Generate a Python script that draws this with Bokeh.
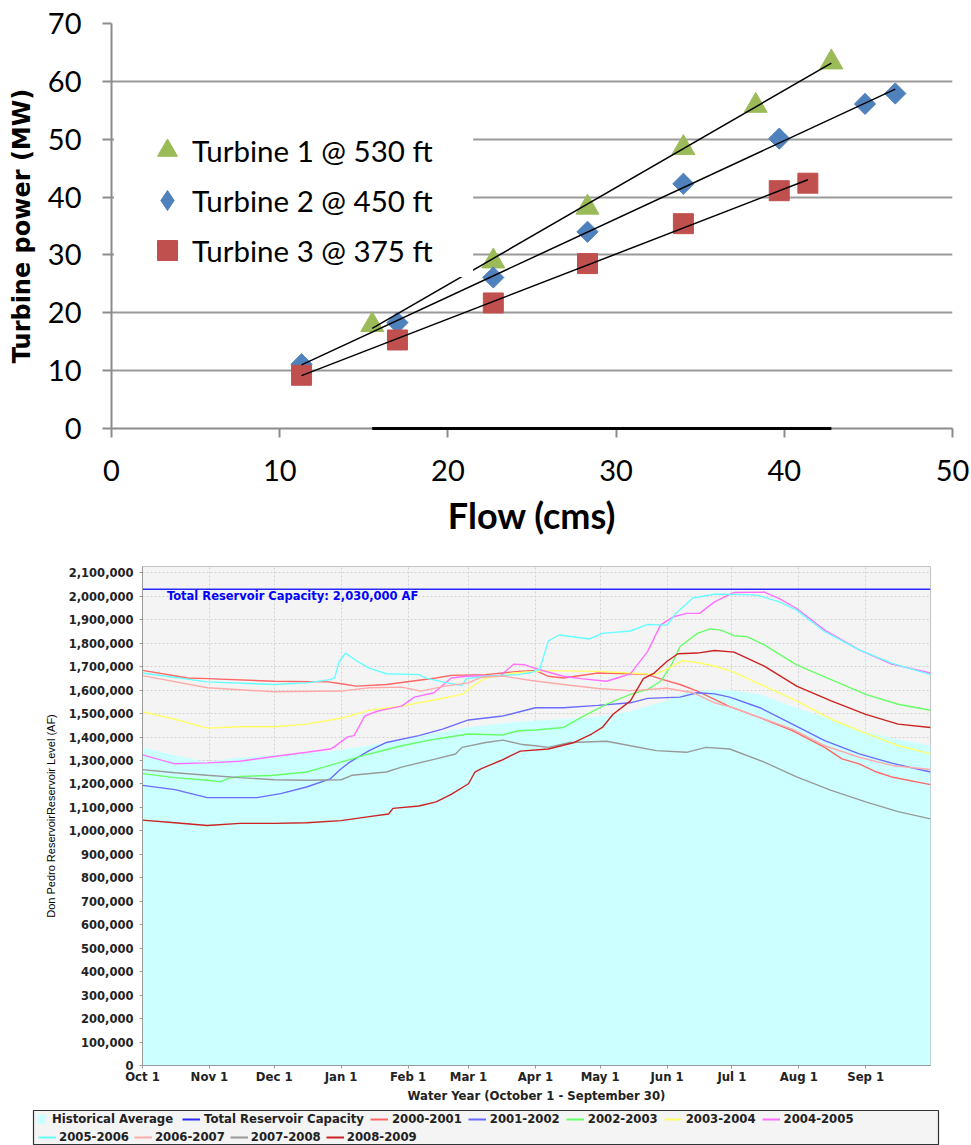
import numpy as np
from bokeh.plotting import figure
from bokeh.models import (Range1d, FixedTicker, NumeralTickFormatter, Legend, LegendItem,
                          BoxAnnotation, Label)
from bokeh.embed import file_html
from bokeh.resources import INLINE

# ---------------- top chart data ----------------
flow_ticks = [0, 10, 20, 30, 40, 50]
power_ticks = [0, 10, 20, 30, 40, 50, 60, 70]

t1_flow = [15.5, 22.7, 28.3, 34.0, 38.3, 42.8]
t1_power = [17.9, 28.9, 38.2, 48.5, 55.8, 63.3]
t2_flow = [11.3, 17.0, 22.7, 28.3, 34.0, 39.7, 44.8, 46.6]
t2_power = [11.1, 18.3, 26.1, 34.0, 42.3, 50.1, 56.1, 57.9]
t3_flow = [11.3, 17.0, 22.7, 28.3, 34.0, 39.7, 41.4]
t3_power = [9.2, 15.3, 21.7, 28.5, 35.4, 41.1, 42.4]
zero_power = [0, 0, 0, 0, 0, 0]

# ---------------- bottom chart data ----------------
month_days = [0, 31, 61, 92, 123, 151, 182, 212, 243, 273, 304, 335]
month_labels = ["Oct 1", "Nov 1", "Dec 1", "Jan 1", "Feb 1", "Mar 1", "Apr 1",
                "May 1", "Jun 1", "Jul 1", "Aug 1", "Sep 1"]
level_ticks = list(range(0, 2100001, 100000))

capacity_day = [0, 365]
capacity_af = [2030000, 2030000]

hist_day = [0, 15, 30, 42, 58, 73, 89, 104, 120, 135, 150, 166, 180, 203, 215, 226, 235,
            243, 250, 257, 265, 272, 286, 301, 316, 333, 350, 365]
hist_af = [1356000, 1322000, 1293000, 1311000, 1321000, 1331000, 1342000, 1363000, 1385000,
           1416000, 1441000, 1458000, 1470000, 1480000, 1492000, 1510000, 1535000, 1556000,
           1585000, 1597000, 1601000, 1599000, 1582000, 1530000, 1485000, 1427000, 1390000,
           1363000]

y0001_day = [0, 21, 30, 61, 86, 92, 99, 113, 136, 143, 159, 174, 182, 188, 195, 211, 226, 234,
             241, 249, 257, 265, 272, 286, 301, 316, 324, 332, 340, 347, 365]
y0001_af = [1684000, 1652000, 1649000, 1638000, 1635000, 1627000, 1617000, 1624000, 1652000,
            1663000, 1666000, 1680000, 1684000, 1659000, 1652000, 1673000, 1670000, 1666000,
            1645000, 1624000, 1596000, 1561000, 1530000, 1483000, 1427000, 1356000, 1307000,
            1286000, 1251000, 1230000, 1197000]

y0102_day = [0, 15, 30, 53, 64, 76, 87, 92, 96, 105, 113, 128, 139, 151, 167, 182, 195, 211,
             226, 234, 249, 257, 265, 272, 286, 301, 316, 332, 347, 365]
y0102_af = [1194000, 1176000, 1142000, 1142000, 1159000, 1187000, 1222000, 1265000, 1293000,
            1342000, 1377000, 1406000, 1434000, 1473000, 1490000, 1525000, 1525000, 1535000,
            1546000, 1565000, 1570000, 1589000, 1584000, 1570000, 1525000, 1455000, 1385000,
            1328000, 1289000, 1251000]

y0203_day = [0, 15, 30, 36, 40, 45, 61, 76, 84, 92, 105, 120, 136, 151, 167, 174, 182, 195,
             203, 215, 226, 234, 240, 245, 249, 257, 263, 268, 274, 280, 288, 303, 319, 335,
             350, 365]
y0203_af = [1244000, 1227000, 1216000, 1209000, 1225000, 1232000, 1237000, 1251000, 1272000,
            1293000, 1328000, 1363000, 1392000, 1413000, 1409000, 1427000, 1430000, 1441000,
            1483000, 1540000, 1582000, 1603000, 1638000, 1708000, 1786000, 1842000, 1861000,
            1856000, 1832000, 1828000, 1793000, 1708000, 1645000, 1582000, 1540000, 1514000]

y0304_day = [0, 15, 30, 45, 61, 76, 92, 105, 120, 136, 148, 154, 159, 172, 187, 211, 226, 237,
             244, 250, 257, 265, 273, 288, 303, 319, 334, 350, 365]
y0304_af = [1508000, 1476000, 1438000, 1444000, 1444000, 1455000, 1480000, 1514000, 1532000,
            1560000, 1582000, 1624000, 1652000, 1673000, 1683000, 1680000, 1673000, 1666000,
            1694000, 1725000, 1718000, 1702000, 1680000, 1617000, 1554000, 1476000, 1420000,
            1364000, 1328000]

y0405_day = [0, 15, 30, 45, 61, 76, 87, 89, 95, 98, 103, 109, 115, 120, 126, 135, 143, 150,
             166, 172, 177, 184, 195, 203, 215, 221, 226, 234, 240, 246, 252, 258, 265, 271,
             274, 288, 295, 303, 316, 332, 347, 365]
y0405_af = [1324000, 1286000, 1290000, 1297000, 1317000, 1335000, 1349000, 1359000, 1401000,
            1406000, 1490000, 1511000, 1522000, 1532000, 1570000, 1589000, 1652000, 1659000,
            1663000, 1711000, 1708000, 1687000, 1659000, 1649000, 1638000, 1655000, 1669000,
            1765000, 1878000, 1913000, 1927000, 1927000, 1976000, 2004000, 2016000, 2018000,
            1990000, 1948000, 1856000, 1772000, 1711000, 1673000]

y0506_day = [0, 30, 61, 76, 87, 89, 91, 94, 100, 105, 113, 128, 131, 139, 148, 150, 159, 174,
             180, 184, 188, 193, 207, 213, 226, 234, 243, 247, 255, 265, 280, 285, 295, 303,
             316, 332, 347, 365]
y0506_af = [1673000, 1635000, 1624000, 1631000, 1645000, 1652000, 1720000, 1758000, 1720000,
            1694000, 1670000, 1666000, 1652000, 1635000, 1620000, 1649000, 1659000, 1666000,
            1675000, 1690000, 1810000, 1835000, 1818000, 1842000, 1852000, 1880000, 1877000,
            1927000, 1993000, 2009000, 2007000, 2004000, 1976000, 1941000, 1849000, 1772000,
            1715000, 1666000]

y0607_day = [0, 30, 61, 92, 105, 120, 129, 140, 151, 157, 167, 180, 195, 211, 226, 243, 255,
             265, 273, 286, 301, 316, 332, 347, 365]
y0607_af = [1662000, 1610000, 1593000, 1596000, 1610000, 1613000, 1596000, 1617000, 1631000,
            1655000, 1660000, 1641000, 1624000, 1607000, 1598000, 1608000, 1589000, 1546000,
            1527000, 1483000, 1434000, 1363000, 1314000, 1279000, 1262000]

y0708_day = [0, 15, 30, 45, 61, 76, 92, 97, 113, 120, 136, 145, 148, 159, 167, 176, 182, 188,
             198, 215, 226, 238, 252, 261, 272, 288, 303, 319, 335, 350, 365]
y0708_af = [1261000, 1248000, 1237000, 1227000, 1218000, 1216000, 1218000, 1237000, 1251000,
            1272000, 1307000, 1328000, 1356000, 1377000, 1387000, 1368000, 1363000, 1356000,
            1377000, 1382000, 1363000, 1342000, 1335000, 1356000, 1349000, 1293000, 1230000,
            1173000, 1124000, 1082000, 1051000]

y0809_day = [0, 15, 30, 45, 61, 76, 92, 105, 114, 116, 128, 136, 143, 151, 154, 157, 166, 175,
             188, 200, 208, 213, 218, 226, 232, 237, 243, 248, 257, 265, 274, 288, 303, 319,
             335, 350, 365]
y0809_af = [1046000, 1035000, 1023000, 1032000, 1032000, 1035000, 1044000, 1061000, 1072000,
            1096000, 1106000, 1124000, 1156000, 1201000, 1251000, 1265000, 1300000, 1340000,
            1349000, 1377000, 1413000, 1441000, 1497000, 1554000, 1649000, 1673000, 1723000,
            1755000, 1758000, 1769000, 1762000, 1702000, 1617000, 1554000, 1497000, 1455000,
            1441000]

series_names = ["2000-2001", "2001-2002", "2002-2003", "2003-2004", "2004-2005",
                "2005-2006", "2006-2007", "2007-2008", "2008-2009"]
series_days = [y0001_day, y0102_day, y0203_day, y0304_day, y0405_day,
               y0506_day, y0607_day, y0708_day, y0809_day]
series_af = [y0001_af, y0102_af, y0203_af, y0304_af, y0405_af,
             y0506_af, y0607_af, y0708_af, y0809_af]
series_colors = ["#ff6666", "#6b6bff", "#66ff66", "#ffff66", "#ff70ff",
                 "#66ffff", "#ffaaaa", "#999999", "#cc2222"]
hist_color = "#ccffff"
capacity_color = "#2a2aff"
NO_POINT = [np.nan]   # legend-swatch renderers draw nothing in the plot area

# =============== TOP CHART ===============
p1 = figure(width=971, height=545, x_range=Range1d(0, 50), y_range=Range1d(0, 70),
            output_backend="svg", toolbar_location=None,
            min_border_left=111, min_border_right=19, min_border_top=23, min_border_bottom=117)
p1.outline_line_color = None
p1.xgrid.visible = False
p1.ygrid.grid_line_color = "#9a9a9a"
p1.ygrid.grid_line_width = 2
p1.xaxis.ticker = FixedTicker(ticks=flow_ticks)
p1.yaxis.ticker = FixedTicker(ticks=power_ticks)
for ax in p1.axis:
    ax.axis_line_color = "#8c8c8c"
    ax.axis_line_width = 2
    ax.major_tick_line_color = "#8c8c8c"
    ax.major_tick_line_width = 2
    ax.major_tick_in = 0
    ax.major_tick_out = 9
    ax.minor_tick_line_color = None
    ax.major_label_text_font = "Lato"
    ax.major_label_text_font_size = "29px"
    ax.major_label_text_color = "black"
p1.xaxis.major_label_standoff = 22
p1.yaxis.major_label_standoff = 21
p1.xaxis.axis_label = "Flow (cms)"
p1.xaxis.axis_label_text_font = "Lato"
p1.xaxis.axis_label_text_font_style = "bold"
p1.xaxis.axis_label_text_font_size = "36px"
p1.xaxis.axis_label_text_color = "black"
p1.xaxis.axis_label_standoff = 9
p1.yaxis.axis_label = "Turbine power (MW)"
p1.yaxis.axis_label_text_font = "DejaVu Sans"
p1.yaxis.axis_label_text_font_style = "bold"
p1.yaxis.axis_label_text_font_size = "24px"
p1.yaxis.axis_label_text_color = "black"
p1.yaxis.axis_label_standoff = 9

c1, c2, c3 = "#9bbb59", "#4f81bd", "#c0504d"
r1 = p1.scatter(t1_flow, t1_power, marker="triangle", size=23, fill_color=c1, line_color=c1)
p1.scatter(t2_flow, t2_power, marker="square", size=15, angle=np.pi / 4,
           fill_color=c2, line_color=c2)
r3 = p1.scatter(t3_flow, t3_power, marker="square", size=20, fill_color=c3, line_color=c3)
r2_key = p1.scatter(NO_POINT, NO_POINT, marker="diamond", fill_color=c2, line_color=c2)

for fx, fy in [(t1_flow, t1_power), (t2_flow, t2_power), (t3_flow, t3_power)]:
    m, b = np.polyfit(fx, fy, 1)
    xs = [min(fx), max(fx)]
    p1.line(xs, [m * x + b for x in xs], line_color="black", line_width=1.5)
m0, b0 = np.polyfit(t1_flow, zero_power, 1)
xs0 = [min(t1_flow), max(t1_flow)]
p1.line(xs0, [m0 * x + b0 for x in xs0], line_color="black", line_width=3, level="overlay")

# white legend background (hides gridlines and part of a trend line, as in the original)
p1.add_layout(BoxAnnotation(left=0.15, right=21.5, bottom=26.2, top=54.5,
                            fill_color="white", fill_alpha=1.0, line_color=None))

leg1 = Legend(items=[LegendItem(label="Turbine 1 @ 530 ft", renderers=[r1]),
                     LegendItem(label="Turbine 2 @ 450 ft", renderers=[r2_key]),
                     LegendItem(label="Turbine 3 @ 375 ft", renderers=[r3])],
              location=(31, 153), orientation="vertical", glyph_width=50, glyph_height=50,
              label_standoff=0, spacing=0, padding=0, margin=0,
              background_fill_alpha=0, border_line_color=None,
              label_text_font="Lato", label_text_font_size="29.5px", label_text_color="black")
p1.add_layout(leg1)

# =============== BOTTOM CHART ===============
p2 = figure(width=971, height=560, x_range=Range1d(0, 365), y_range=Range1d(0, 2127000),
            output_backend="svg", toolbar_location=None,
            min_border_left=142, min_border_right=41, min_border_top=21, min_border_bottom=36)
p2.background_fill_color = "#f4f4f4"
p2.outline_line_color = "#c4c4c4"
p2.grid.grid_line_color = "#d2d2d2"
p2.grid.grid_line_dash = "2 2"
p2.xaxis.ticker = FixedTicker(ticks=month_days)
p2.xaxis.major_label_overrides = {d: lab for d, lab in zip(month_days, month_labels)}
p2.yaxis.ticker = FixedTicker(ticks=level_ticks)
p2.yaxis.formatter = NumeralTickFormatter(format="0,0")
for ax in p2.axis:
    ax.axis_line_color = "#9a9a9a"
    ax.major_tick_line_color = "#9a9a9a"
    ax.major_tick_in = 0
    ax.major_tick_out = 3
    ax.minor_tick_line_color = None
    ax.major_label_text_font = "DejaVu Sans"
    ax.major_label_text_font_style = "bold"
    ax.major_label_text_color = "#222222"
p2.xaxis.major_label_text_font_size = "11.7px"
p2.yaxis.major_label_text_font_size = "11.5px"
p2.xaxis.major_label_standoff = 1
p2.yaxis.major_label_standoff = 6
p2.xaxis.axis_label = "Water Year (October 1 - September 30)"
p2.xaxis.axis_label_text_font = "DejaVu Sans"
p2.xaxis.axis_label_text_font_style = "bold"
p2.xaxis.axis_label_text_font_size = "11.7px"
p2.xaxis.axis_label_text_color = "#222222"
p2.xaxis.axis_label_standoff = 2
p2.yaxis.axis_label = "Don Pedro ReservoirReservoir Level (AF)"
p2.yaxis.axis_label_text_font = "Liberation Sans"
p2.yaxis.axis_label_text_font_style = "normal"
p2.yaxis.axis_label_text_font_size = "11px"
p2.yaxis.axis_label_text_color = "black"
p2.yaxis.axis_label_standoff = 9

p2.varea(x=hist_day, y1=0, y2=hist_af, fill_color=hist_color)
p2.line(capacity_day, capacity_af, line_color=capacity_color, line_width=1.3)
for d, v, c in zip(series_days, series_af, series_colors):
    p2.line(d, v, line_color=c, line_width=1.4)

p2.add_layout(Label(x=11.3, y=2030000, text="Total Reservoir Capacity: 2,030,000 AF",
                    text_baseline="top", text_color="#0000ff", text_font="DejaVu Sans",
                    text_font_style="bold", text_font_size="11.5px"))

# =============== LEGEND STRIP (box under the bottom chart) ===============
p3 = figure(width=971, height=40, x_range=Range1d(0, 1), y_range=Range1d(0, 1),
            x_axis_type=None, y_axis_type=None, output_backend="svg", toolbar_location=None,
            min_border_left=33, min_border_right=33, min_border_top=5, min_border_bottom=0)
p3.background_fill_color = "#f4f4f4"
p3.outline_line_color = "#333333"
p3.outline_line_width = 1.2
p3.grid.visible = False

sw_hist = p3.varea(x=NO_POINT, y1=NO_POINT, y2=NO_POINT, fill_color=hist_color)
sw_cap = p3.line(x=NO_POINT, y=NO_POINT, line_color=capacity_color, line_width=2)
sw = {n: p3.line(x=NO_POINT, y=NO_POINT, line_color=c, line_width=2)
      for n, c in zip(series_names, series_colors)}

common = dict(orientation="horizontal", glyph_height=12, label_height=12, padding=0,
              margin=0, background_fill_alpha=0, border_line_color=None,
              label_text_font="DejaVu Sans", label_text_font_style="bold",
              label_text_font_size="11.7px", label_text_color="#222222")
legA = Legend(items=[LegendItem(label="Historical Average", renderers=[sw_hist])],
              location=(3, 19), glyph_width=10, label_standoff=6, spacing=6, **common)
legB = Legend(items=[LegendItem(label="Total Reservoir Capacity", renderers=[sw_cap])] +
              [LegendItem(label=n, renderers=[sw[n]]) for n in series_names[:5]],
              location=(149, 19), glyph_width=18, label_standoff=4, spacing=6, **common)
legC = Legend(items=[LegendItem(label=n, renderers=[sw[n]]) for n in series_names[5:]],
              location=(5, 1), glyph_width=18, label_standoff=3, spacing=5, **common)
for lg in (legA, legB, legC):
    p3.add_layout(lg)

open("out.html", "w").write(file_html([p1, p2, p3], INLINE))
